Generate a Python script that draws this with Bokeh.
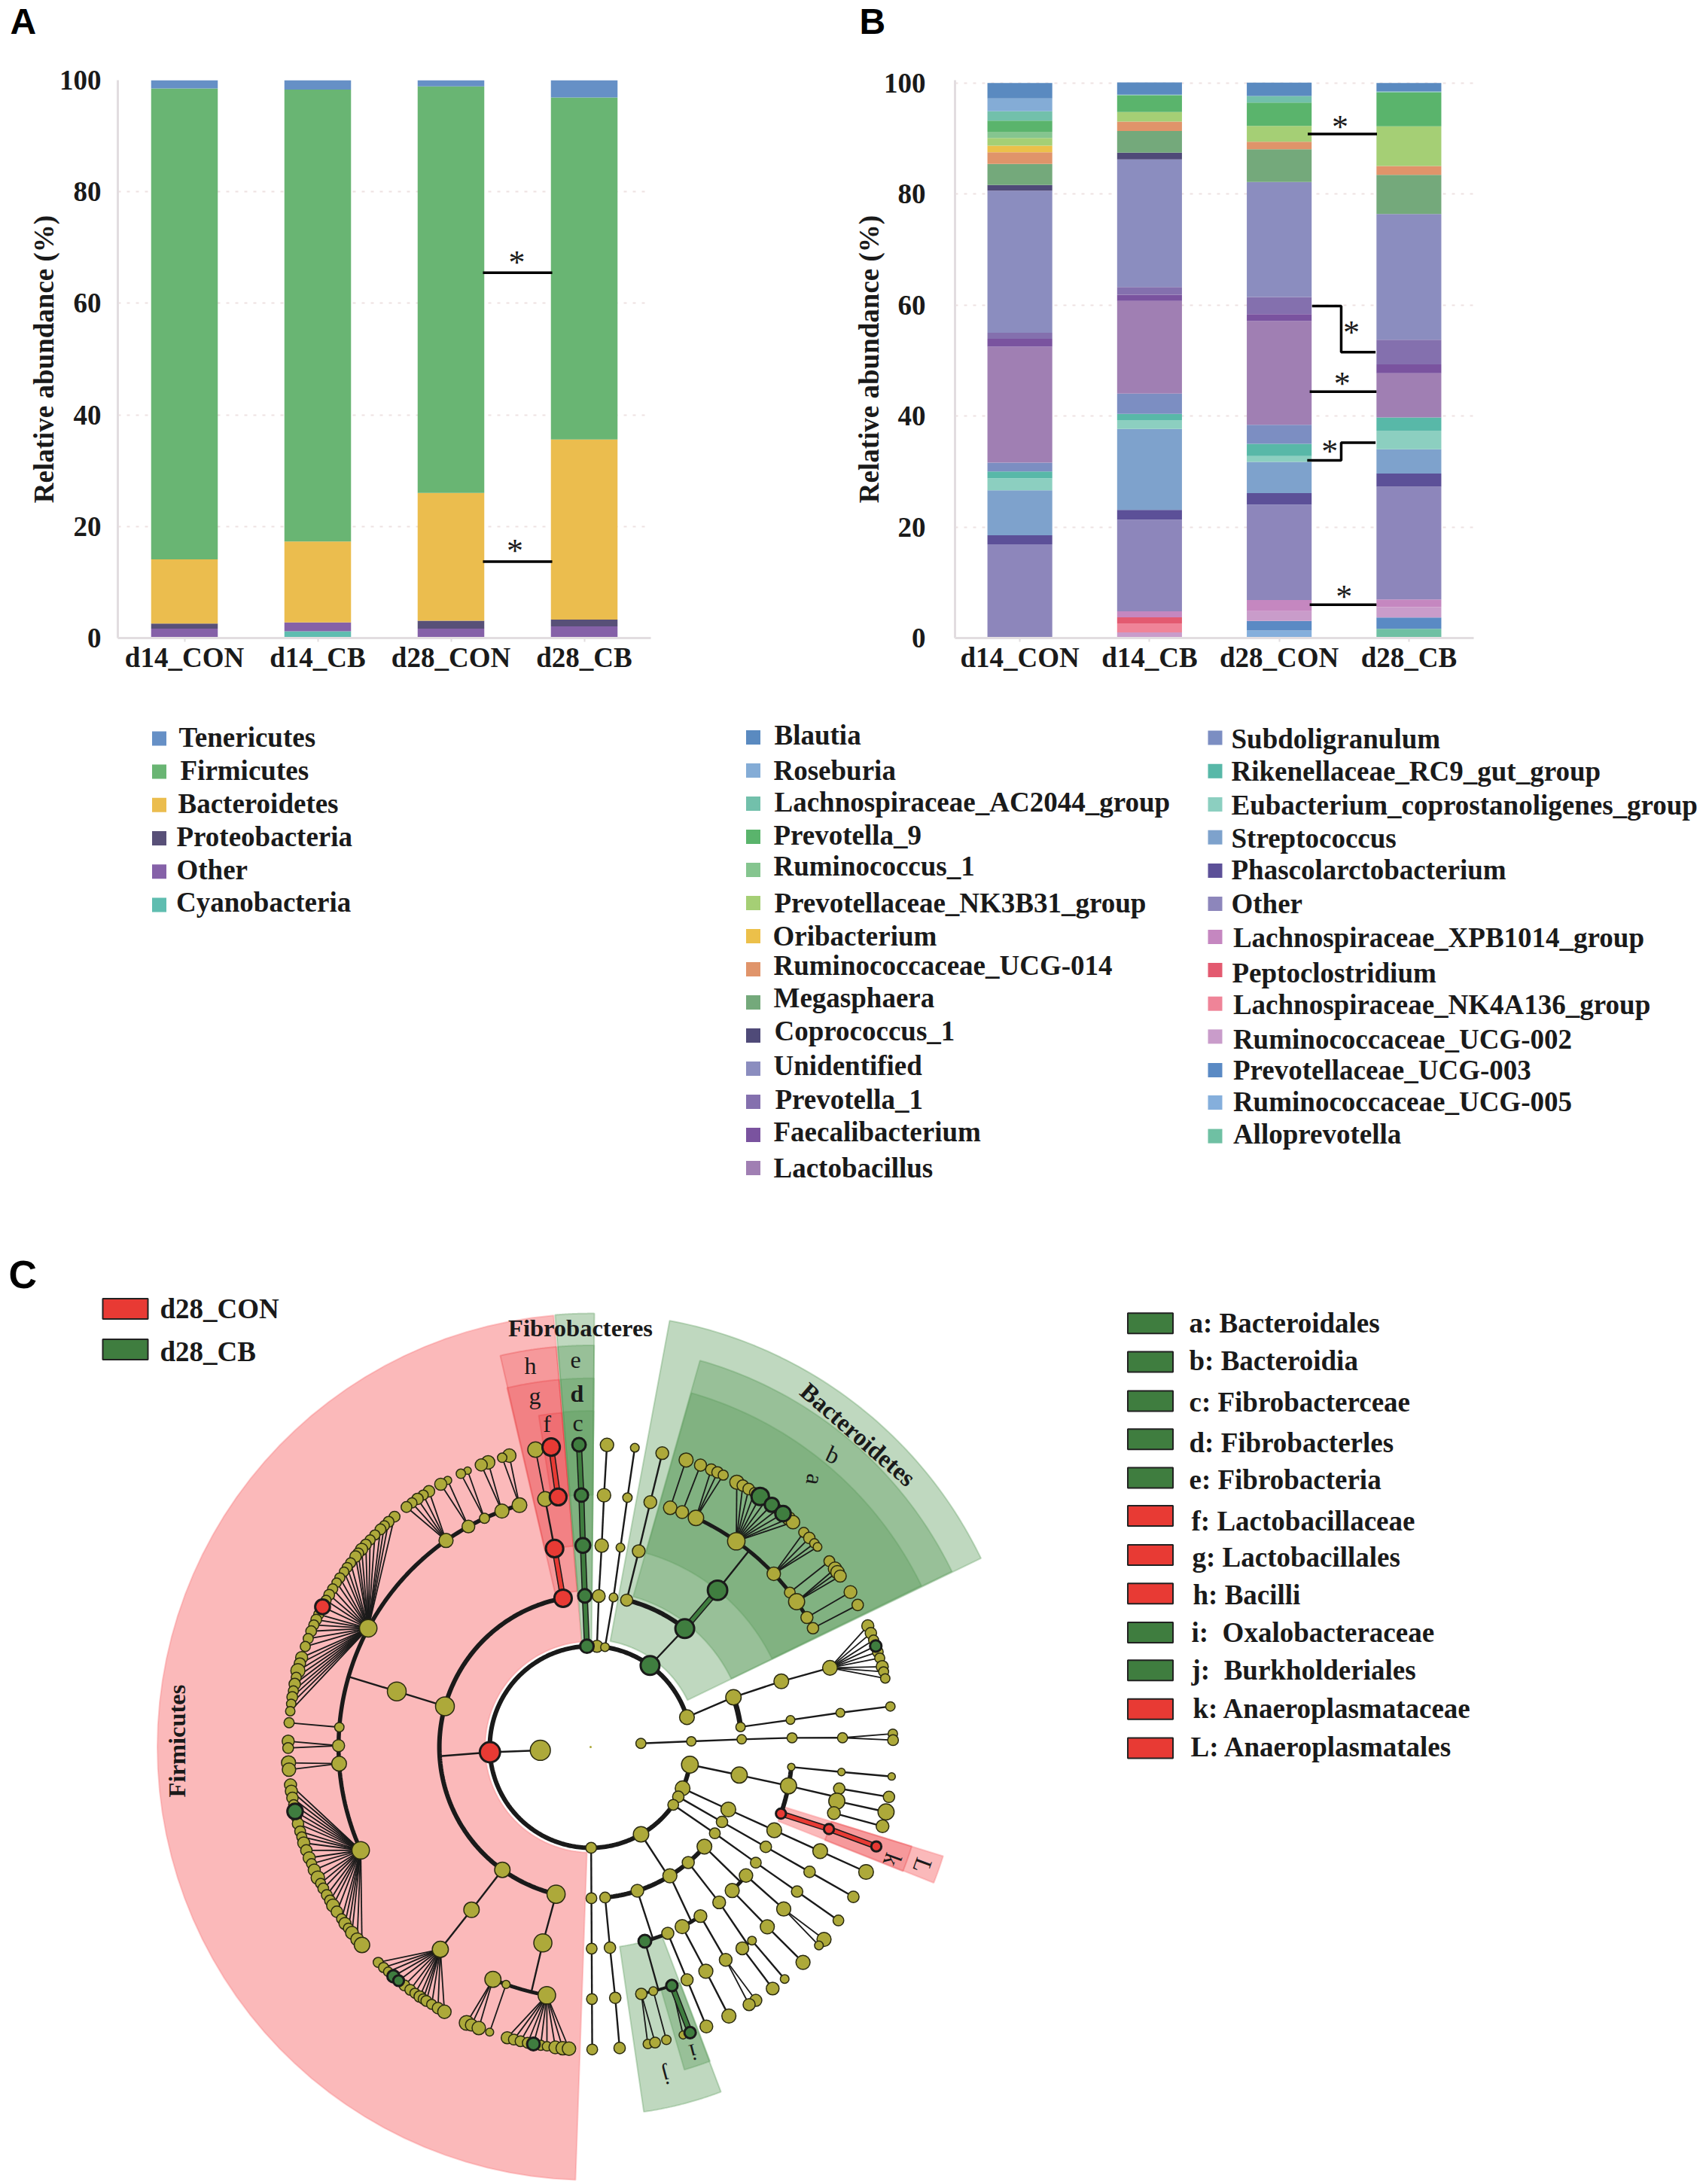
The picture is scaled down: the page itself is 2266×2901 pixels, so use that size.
import math
import numpy as np
from bokeh.plotting import figure
from bokeh.layouts import column, row
from bokeh.models import Range1d
from bokeh.core.properties import value
from bokeh.embed import file_html
from bokeh.resources import INLINE

SERIF = "Liberation Serif"
SANS = "Liberation Sans"
INK = "#1a1a1a"

groups = ["d14_CON", "d14_CB", "d28_CON", "d28_CB"]
y_ticks = [0, 20, 40, 60, 80, 100]
panel_letters = ["A", "B", "C"]

# ---------- panel A: phylum level (%), stacked bottom to top
A_taxa = ["Cyanobacteria", "Other", "Proteobacteria", "Bacteroidetes", "Firmicutes", "Tenericutes"]
A_colors = ["#5fbdb0", "#8561a8", "#585078", "#ebbd4e", "#69b573", "#6690c6"]
A_d14_CON = [0.0, 1.7, 0.9, 11.5, 84.4, 1.5]
A_d14_CB = [1.2, 1.6, 0.0, 14.5, 81.0, 1.7]
A_d28_CON = [0.0, 1.7, 1.4, 22.9, 72.9, 1.1]
A_d28_CB = [0.0, 2.1, 1.2, 32.3, 61.3, 3.1]
A_marks = [65.5, 13.7]
A_legend_names = ["Tenericutes", "Firmicutes", "Bacteroidetes", "Proteobacteria", "Other", "Cyanobacteria"]
A_legend_colors = ["#6690c6", "#69b573", "#ebbd4e", "#585078", "#8561a8", "#5fbdb0"]

# ---------- panel B: genus level (%), stacked bottom to top
B_taxa = ["Alloprevotella", "Ruminococcaceae_UCG-005", "Prevotellaceae_UCG-003", "Ruminococcaceae_UCG-002",
          "Lachnospiraceae_NK4A136_group", "Peptoclostridium", "Lachnospiraceae_XPB1014_group", "Other",
          "Phascolarctobacterium", "Streptococcus", "Eubacterium_coprostanoligenes_group",
          "Rikenellaceae_RC9_gut_group", "Subdoligranulum", "Lactobacillus", "Faecalibacterium", "Prevotella_1",
          "Unidentified", "Coprococcus_1", "Megasphaera", "Ruminococcaceae_UCG-014", "Oribacterium",
          "Prevotellaceae_NK3B31_group", "Ruminococcus_1", "Prevotella_9", "Lachnospiraceae_AC2044_group",
          "Roseburia", "Blautia"]
B_colors = ["#6fc0a3", "#85afdc", "#5a8ac4", "#c99cca", "#ef8498", "#e35a70", "#c587c0", "#8d86bb",
            "#5c5098", "#7ea2cc", "#8ccfc0", "#58b8a8", "#7c8ec2", "#a07fb3", "#7a539f", "#8470ae",
            "#8b8dbf", "#4f4a78", "#74a97b", "#e0946a", "#ecc04a", "#a5cf75", "#85c58f", "#5ab46c",
            "#72c0ab", "#84acd6", "#5a8ac0"]
B_d14_CON = [0, 0, 0, 0, 0, 0, 0, 16.9, 1.6, 8.1, 2.2, 1.2, 1.6, 20.9, 1.4, 1.1, 25.6, 1.0, 3.8, 2.1, 1.2, 1.4, 1.1, 2.0, 1.7, 2.3, 2.8]
B_d14_CB = [0, 0, 0, 1.03, 1.6, 1.1, 1.1, 16.5, 1.75, 14.6, 1.6, 1.1, 3.65, 16.7, 1.1, 1.4, 23.0, 1.2, 3.9, 1.7, 0, 1.75, 0, 3.0, 0.1, 0, 2.2]
B_d28_CON = [0, 1.35, 1.75, 1.75, 0, 0, 2.0, 17.2, 2.05, 5.65, 1.05, 2.2, 3.4, 18.7, 1.25, 3.1, 20.7, 0, 5.9, 1.35, 0, 2.85, 0, 4.2, 1.2, 0, 2.4]
B_d28_CB = [1.65, 0, 2.05, 1.85, 0, 0, 1.4, 20.3, 2.4, 4.35, 3.35, 2.4, 0, 7.95, 1.6, 4.45, 22.65, 0, 7.05, 1.6, 0, 7.15, 0, 6.1, 0.15, 0, 1.55]
B_legend_col1 = ["Blautia", "Roseburia", "Lachnospiraceae_AC2044_group", "Prevotella_9", "Ruminococcus_1",
                 "Prevotellaceae_NK3B31_group", "Oribacterium", "Ruminococcaceae_UCG-014", "Megasphaera",
                 "Coprococcus_1", "Unidentified", "Prevotella_1", "Faecalibacterium", "Lactobacillus"]
B_legend_col2 = ["Subdoligranulum", "Rikenellaceae_RC9_gut_group", "Eubacterium_coprostanoligenes_group",
                 "Streptococcus", "Phascolarctobacterium", "Other", "Lachnospiraceae_XPB1014_group",
                 "Peptoclostridium", "Lachnospiraceae_NK4A136_group", "Ruminococcaceae_UCG-002",
                 "Prevotellaceae_UCG-003", "Ruminococcaceae_UCG-005", "Alloprevotella"]

# ---------- panel C: key
C_groups = ["d28_CON", "d28_CB"]
C_key = ["a: Bacteroidales", "b: Bacteroidia", "c: Fibrobacterceae", "d: Fibrobacterles", "e: Fibrobacteria",
         "f: Lactobacillaceae", "g: Lactobacillales", "h: Bacilli", "i:\u00a0 Oxalobacteraceae", "j:\u00a0 Burkholderiales",
         "k: Anaeroplasmataceae", "L: Anaeroplasmatales"]
C_key_group = ["g", "g", "g", "g", "g", "r", "r", "r", "g", "g", "r", "r"]

# ---------- cladogram: (level, angle clockwise from north in degrees, node diameter, colour)
# diameter 0 means the line only runs to an arc, without a node of its own
thin_chains = [
    [(1, -93.8, 60, "o"), (2, -93.0, 60, "r"), (3, -93.5, 0, "o")],
    [(3, -74.4, 56, "o"), (4, -74.0, 56, "o"), (5, -73.8, 0, "o")],
    [(3, -144.3, 46, "o"), (4, -143.8, 46, "o"), (5, -143.4, 48, "o")],
    [(3, -166.8, 54, "o"), (4, -166.3, 54, "o"), (5, -166.4, 0, "o")],
    [(4, -10.3, 0, "o"), (5, -10.4, 44, "o")],
    [(2, 3.6, 36, "o"), (3, 3.1, 38, "o"), (4, 3.15, 40, "o"), (5, 3.05, 40, "o"), (6, 3.1, 40, "o")],
    [(2, 8.2, 26, "o"), (3, 8.7, 26, "o"), (4, 8.5, 26, "o"), (5, 8.4, 28, "o"), (6, 8.4, 26, "o")],
    [(3, 13.8, 36, "o"), (4, 13.8, 38, "o"), (5, 13.7, 38, "o"), (6, 13.7, 38, "o")],
    [(2, 36.1, 56, "g"), (3, 38.5, 0, "o")],
    [(4, 39.0, 0, "o"), (5, 38.9, 0, "o")],
    [(2, 72.8, 44, "o"), (3, 70.8, 46, "o"), (4, 71.0, 44, "o"), (5, 71.7, 44, "o")],
    [(3, 82.4, 28, "o"), (4, 82.3, 26, "o"), (5, 82.2, 26, "o"), (6, 82.3, 28, "o")],
    [(1, 85.9, 30, "o"), (2, 86.8, 28, "o"), (3, 87.1, 28, "o"), (4, 87.4, 30, "o"), (5, 87.9, 30, "o")],
    [(2, 100.1, 50, "o"), (3, 100.7, 48, "o"), (4, 101.1, 48, "o"), (5, 101.5, 0, "o")],
    [(4, 95.7, 22, "o"), (5, 95.7, 22, "o"), (6, 95.6, 22, "o")],
    [(5, 99.5, 34, "o"), (6, 99.5, 34, "o")],
    [(5, 102.4, 48, "o"), (6, 102.4, 48, "o")],
    [(5, 105.2, 38, "o"), (6, 105.2, 38, "o")],
    [(2, 114.2, 44, "o"), (3, 114.4, 44, "o"), (4, 114.4, 44, "o"), (5, 114.4, 44, "o"), (6, 114.4, 44, "o")],
    [(2, 119.6, 34, "o"), (3, 119.7, 34, "o"), (4, 119.7, 34, "o"), (5, 119.7, 34, "o"), (6, 119.7, 34, "o")],
    [(2, 125.0, 32, "o"), (3, 124.8, 32, "o"), (4, 125.0, 32, "o"), (5, 125.0, 34, "o"), (6, 125.0, 32, "o")],
    [(2, 150.0, 46, "o"), (3, 149.0, 0, "o")],
    [(3, 131.2, 44, "o"), (4, 132.0, 0, "o")],
    [(4, 129.6, 40, "o"), (5, 130.0, 42, "o")],
    [(4, 135.4, 42, "o"), (5, 135.5, 42, "o"), (6, 135.4, 42, "o")],
    [(3, 139.8, 36, "o"), (4, 140.4, 38, "o"), (5, 141.5, 0, "o")],
    [(5, 140.2, 26, "o"), (6, 140.1, 26, "o")],
    [(5, 143.0, 38, "o"), (6, 143.0, 38, "o")],
    [(3, 148.4, 42, "o"), (4, 150.0, 0, "o")],
    [(4, 147.0, 38, "o"), (5, 147.6, 38, "o")],
    [(4, 153.0, 42, "o"), (5, 152.8, 42, "o"), (6, 152.8, 42, "o")],
    [(3, 162.0, 38, "o"), (4, 162.0, 0, "o")],
    [(4, 157.5, 36, "o"), (5, 157.5, 36, "o"), (6, 157.5, 38, "o")],
    [(4, 164.4, 38, "g"), (5, 164.4, 0, "o")],
    [(3, 174.5, 32, "o"), (4, 174.5, 34, "o"), (5, 174.4, 34, "o"), (6, 174.5, 34, "o")],
    [(2, 179.7, 32, "o"), (3, 179.7, 32, "o"), (4, 179.7, 32, "o"), (5, 179.7, 32, "o"), (6, 179.7, 32, "o")],
]
green_chains = [
    [(2, -2.1, 40), (3, -2.2, 40), (4, -2.2, 44), (5, -2.1, 40), (6, -2.2, 40)],
    [(3, 38.5, 56), (4, 39.0, 58)],
    [(5, 161.2, 34), (6, 160.8, 34)],
]
red_chains = [
    [(3, -10.5, 52), (4, -10.3, 52)],
    [(5, -7.4, 50), (6, -7.5, 52)],
    [(4, 109.3, 30), (5, 109.0, 30), (6, 109.2, 30)],
]
hub_nodes = [(-16.4, 44), (-20.6, 42), (-24.9, 30), (-29.0, 38), (-35.0, 42), (-61.9, 52), (-85.5, 28), (-89.7, 36),
             (-93.8, 44), (-114.2, 52), (-157.2, 48), (-160.4, 24), (-170.0, 52), (18.4, 40), (21.3, 38), (24.7, 46),
             (35.3, 52), (46.6, 40), (52.2, 32), (54.8, 48), (59.1, 36), (61.9, 34), (165.6, 26), (168.4, 34)]
# fans: (hub angle at level 5, leaf angles, leaf diameters)
fans = [
    (-16.4, [-15.6, -17.0], [40, 28]),
    (-20.6, [-19.8, -21.2], [40, 36]),
    (-24.9, [-24.0, -25.4], [22, 28]),
    (-29.0, [-28.2, -29.7], [24, 36]),
    (-35.0, [-32.3, -33.6, -34.9, -36.2, -37.5], [34, 30, 34, 30, 32]),
    (-61.9, [-40.4, -41.9, -43.0, -44.0, -45.5, -46.8, -48.0, -49.2, -50.2, -51.0, -52.5, -53.6, -54.6, -56.0, -57.1,
             -58.5, -59.8, -61.0, -62.4, -64.0, -65.1, -66.2, -67.5, -69.0, -70.6, -72.8, -74.0, -75.4, -76.7, -78.0,
             -79.3, -80.5, -81.8, -83.2],
     [32, 32, 30, 32, 30, 30, 32, 36, 32, 34, 30, 30, 28, 30, 28, 30, 32, 30, 44, 30, 32, 30, 32, 30, 30, 36, 34, 42,
      30, 34, 30, 32, 28, 28]),
    (-85.5, [-85.4], [30]),
    (-89.7, [-88.9, -90.2], [36, 32]),
    (-93.8, [-93.0, -94.3], [42, 40]),
    (-114.2, [-97.2, -98.4, -99.7, -101.0, -102.3, -103.5, -104.7, -106.2, -107.3, -108.5, -110.0, -111.5, -112.7,
              -114.0, -115.6, -116.8, -117.9, -119.3, -120.5, -121.6, -123.0, -124.6, -125.7, -126.8, -127.9, -129.5,
              -130.9],
     [36, 36, 34, 30, 46, 30, 34, 32, 30, 36, 34, 36, 30, 36, 40, 30, 32, 32, 32, 38, 34, 30, 36, 30, 38, 38, 46]),
    (-143.4, [-135.4, -136.8, -138.0, -139.3, -140.6, -142.0, -143.4, -144.5, -145.6, -146.4, -147.1, -148.3, -149.7,
              -151.1], [30, 30, 28, 36, 32, 32, 32, 30, 34, 30, 32, 30, 34, 40]),
    (-157.2, [-155.8, -156.8, -158.3], [44, 36, 40]),
    (-160.4, [-160.5], [24]),
    (-170.0, [-164.0, -165.3, -166.6, -168.0, -169.1, -170.5, -171.7, -173.3, -174.7, -175.9],
     [36, 32, 32, 32, 38, 30, 28, 38, 40, 40]),
    (-10.4, [-10.5], [46]),
    (18.4, [18.4], [42]),
    (21.3, [21.3], [36]),
    (24.7, [23.5, 24.8, 26.0], [34, 34, 30]),
    (35.3, [28.9, 30.2, 31.5, 32.8, 34.1, 35.4, 36.8, 38.2, 39.5, 40.9, 42.0],
     [42, 34, 34, 30, 52, 30, 42, 30, 46, 40, 40]),
    (46.6, [44.8, 46.3, 47.7, 48.6], [30, 34, 28, 26]),
    (52.2, [52.1], [32]),
    (54.8, [53.9, 54.7, 55.6], [40, 40, 36]),
    (59.1, [59.2], [38]),
    (61.9, [62.0], [34]),
    (71.7, [66.4, 67.9, 69.3, 70.5, 71.7, 72.9, 74.6, 75.6, 76.9], [36, 34, 30, 34, 32, 30, 36, 30, 28]),
    (87.9, [87.5, 88.7], [28, 32]),
    (130.0, [129.5, 131.0], [42, 26]),
    (147.6, [146.9, 148.4], [36, 36]),
    (161.2, [162.2], [24]),
    (165.6, [165.5], [28]),
    (168.4, [169.1, 167.7], [28, 32]),
]
# leaves in the fans that are enriched in one group: (angle, diameter, colour)
marked_leaves = [(-62.4, 44, "r"), (-102.3, 46, "g"), (-139.3, 36, "g"), (-140.6, 32, "g"), (-169.1, 38, "g"),
                 (34.1, 52, "g"), (36.8, 42, "g"), (39.5, 46, "g"), (70.5, 34, "g")]
# arcs: (level, from angle, to angle, width)
arcs = [(2, 100.1, 432.8, 6.0), (3, -166.8, -10.5, 6.0), (3, 13.8, 38.5, 6.0), (3, 70.8, 82.4, 7.0),
        (3, 131.2, 174.5, 6.0), (5, -114.2, -16.4, 5.5), (5, -170.0, -157.2, 5.0), (5, -10.4, -7.4, 4.0),
        (5, 18.4, 24.7, 3.0), (5, 24.7, 61.9, 5.0), (5, 99.5, 105.2, 3.0), (5, 140.2, 143.0, 3.0),
        (5, 161.2, 168.4, 4.0), (4, 95.7, 109.3, 6.0), (4, 129.6, 135.4, 5.0), (4, 147.0, 153.0, 5.0),
        (4, 157.5, 164.4, 5.0)]
# shaded clades: (inner radius, outer radius, from angle, to angle)
pink_base = [(314, 1289, -178.0, -4.9), (600, 1098, 107.2, 111.6)]
red_bands = [(465, 1195, -13.0, -4.9), (600, 1097, -13.1, -4.9), (750, 998, -8.9, -4.9), (750, 1000, 107.2, 111.7)]
green_bands = [(320, 1290, -4.7, 0.5), (465, 1195, -4.7, 0.5), (600, 1097, -4.7, 0.5), (750, 1000, -4.7, 0.5),
               (320, 1290, 10.5, 64.2), (465, 1195, 15.8, 64.1), (600, 1095, 15.9, 64.0),
               (600, 1097, 159.3, 171.7), (750, 1000, 159.2, 163.8)]
clade_names = ["Fibrobacteres", "Bacteroidetes", "Firmicutes"]
clade_letters = ["h", "g", "f", "e", "d", "c", "b", "a", "j", "i", "k", "L"]


# ---------- shared axis styling
def style(p):
    p.background_fill_color = None
    p.border_fill_color = None
    p.outline_line_color = None
    p.xgrid.visible = False
    p.ygrid.grid_line_color = "#eee2e2"
    p.ygrid.grid_line_dash = "4 8"
    p.ygrid.grid_line_width = 2
    p.yaxis.ticker = y_ticks
    p.yaxis.axis_label = "Relative abundance (%)"
    p.yaxis.axis_label_text_font = SERIF
    p.yaxis.axis_label_text_font_style = "bold"
    p.yaxis.axis_label_text_font_size = "37px"
    p.yaxis.axis_label_text_color = INK
    for ax in (p.xaxis, p.yaxis):
        ax.axis_line_color = "#e2dde0"
        ax.axis_line_width = 3
        ax.major_label_text_font = SERIF
        ax.major_label_text_font_style = "bold"
        ax.major_label_text_font_size = "37px"
        ax.major_label_text_color = INK
    p.yaxis.major_tick_line_color = None
    p.yaxis.minor_tick_line_color = None
    p.xaxis.major_tick_line_color = "#e2dde0"
    p.xaxis.major_tick_line_width = 2
    p.xaxis.major_tick_out = 5
    p.xaxis.major_tick_in = 0


def stacks(p, bars, colors):
    for name, vals in zip(groups, bars):
        tops = np.cumsum(vals)
        bottoms = tops - np.array(vals)
        for b, t, c in zip(bottoms, tops, colors):
            if t > b:
                p.vbar(x=[name], bottom=[float(b)], top=[float(t)], width=0.5, fill_color=c, line_color=None)


def stars(p, xs, ys):
    p.text(x=xs, y=ys, text=["*"] * len(xs), text_font=value(SERIF), text_font_size="44px",
           text_align="center", text_baseline="alphabetic", text_color=INK)


# ---------- strip with the panel letters A and B
HEAD_H = 60
ph = figure(width=2264, height=HEAD_H, x_range=Range1d(0, 2264), y_range=Range1d(HEAD_H, 0),
            output_backend="svg", toolbar_location=None, tools="", min_border=0)
ph.background_fill_color = None
ph.border_fill_color = None
ph.outline_line_color = None
ph.axis.visible = False
ph.grid.visible = False
ph.text(x=[13, 1141], y=[28, 28], text=panel_letters[:2], text_font=value(SANS), text_font_style="bold",
        text_font_size="48px", text_color="black", text_baseline="alphabetic")

# ---------- panel A
TOP_H = 870
pa = figure(width=1130, height=TOP_H, x_range=groups, y_range=Range1d(0, 100), output_backend="svg",
            toolbar_location=None, tools="", min_border_left=156, min_border_right=266,
            min_border_top=46, min_border_bottom=83)
style(pa)
pa.xaxis.major_label_standoff = 0
pa.yaxis.major_label_standoff = 16
pa.yaxis.axis_label_standoff = -3
stacks(pa, [A_d14_CON, A_d14_CB, A_d28_CON, A_d28_CB], A_colors)
pa.multi_line(xs=[[2.74, 3.26], [2.74, 3.26]], ys=[[A_marks[0]] * 2, [A_marks[1]] * 2], line_color="black", line_width=3.5)
stars(pa, [2.995, 2.98], [67.4, 15.6])

# ---------- panel B
pb = figure(width=1120, height=TOP_H, x_range=groups, y_range=Range1d(0, 100.5), output_backend="svg",
            toolbar_location=None, tools="", min_border_left=125, min_border_right=293,
            min_border_top=46, min_border_bottom=83)
style(pb)
pb.xaxis.major_label_standoff = 0
pb.yaxis.major_label_standoff = 33
pb.yaxis.axis_label_standoff = -4
stacks(pb, [B_d14_CON, B_d14_CB, B_d28_CON, B_d28_CB], B_colors)
pb.multi_line(xs=[[2.72, 3.254], [2.753, 2.978, 2.978, 3.243], [2.735, 3.25], [2.716, 2.978, 2.978, 3.243], [2.735, 3.25]],
              ys=[[90.8, 90.8], [59.8, 59.8, 51.5, 51.5], [44.4, 44.4], [32.0, 32.0, 35.2, 35.2], [6.0, 6.0]],
              line_color="black", line_width=3.5)
stars(pb, [2.97, 3.057, 2.985, 2.89, 3.0], [92.1, 55.1, 45.8, 33.7, 7.45])

# ---------- lower part: legends and cladogram, on a canvas whose units are page pixels
TOP_Y = HEAD_H + TOP_H
BOT_Y = 2899
pc = figure(width=2264, height=BOT_Y - TOP_Y, x_range=Range1d(0, 2264), y_range=Range1d(BOT_Y, TOP_Y),
            output_backend="svg", toolbar_location=None, tools="", min_border=0)
pc.background_fill_color = None
pc.border_fill_color = None
pc.outline_line_color = None
pc.axis.visible = False
pc.grid.visible = False

BASELINE_SHIFT = 0.3 * 37


def legend_text(x, y, text, size="37px", style_="bold", **kw):
    base = kw.get("baseline", "alphabetic")
    ys = [v - BASELINE_SHIFT for v in y] if base == "alphabetic" else y
    pc.text(x=x, y=ys, text=text, text_font=value(SERIF), text_font_style=style_, text_font_size=size,
            text_color=INK, text_baseline=base, text_align=kw.get("align", "left"),
            angle=kw.get("angle", 0), angle_units="deg")


lookup_b = dict(zip(B_taxa, B_colors))
pc.scatter(x=[211] * 6, y=[980.4, 1024.6, 1068.8, 1113, 1157.2, 1201.4], size=19, marker="square",
           fill_color=A_legend_colors, line_color=None)
legend_text([237, 239, 236, 234, 234, 233.5], [990, 1034, 1078, 1122, 1166, 1209.5], A_legend_names)
pc.scatter(x=[1000] * 14, y=[979, 1023, 1067, 1111, 1155, 1199, 1243, 1287, 1331, 1375, 1419, 1463, 1507, 1551], size=19,
           marker="square", fill_color=[lookup_b[n] for n in B_legend_col1], line_color=None)
legend_text([1028, 1027, 1028, 1027, 1027, 1028, 1026, 1027, 1027, 1028, 1027, 1029, 1027, 1027],
            [987, 1033.6, 1076, 1120, 1161, 1210, 1254, 1293, 1336, 1380, 1426, 1471.5, 1514, 1562], B_legend_col1)
pc.scatter(x=[1613.5] * 13, y=[979.6, 1023.8, 1068, 1111.7, 1156, 1200, 1244, 1288, 1332.7, 1376.4, 1421, 1464, 1508.6],
           size=19, marker="square", fill_color=[lookup_b[n] for n in B_legend_col2], line_color=None)
legend_text([1635, 1635, 1635, 1635, 1635, 1635, 1637.4, 1636, 1637.4, 1637.4, 1637.4, 1637.4, 1637.4],
            [992.5, 1035, 1080.4, 1124, 1165.7, 1211, 1256, 1303, 1345, 1390.7, 1432, 1474, 1517.5], B_legend_col2)

RED = "#e83a34"
GREEN = "#3f7d3f"
OLIVE = "#ada93a"
pc.rect(x=[166, 166], y=[1738, 1792], width=60, height=27, fill_color=[RED, GREEN], line_color="#222222", line_width=2)
legend_text([212, 212], [1749, 1806], C_groups)
pc.rect(x=[1527.5] * 12, y=[1757.2, 1808.4, 1860.5, 1911.2, 1962.4, 2013.1, 2065.1, 2116.3, 2167.9, 2218.2, 2269.8, 2321.4],
        width=60, height=27, fill_color=[GREEN if k == "g" else RED for k in C_key_group],
        line_color="#222222", line_width=2)
legend_text([1579, 1579, 1579, 1579, 1579, 1582, 1583, 1584, 1582, 1582, 1584, 1581],
            [1768, 1818.4, 1872.6, 1926.8, 1976.2, 2030.9, 2079.4, 2129.3, 2179.2, 2229, 2279.8, 2331], C_key)
pc.text(x=[11], y=[1692.5], text=[panel_letters[2]], text_font=value(SANS), text_font_style="bold", text_font_size="52px",
        text_color="black", text_baseline="alphabetic")

# cladogram geometry
CX, CY = 784.0, 2320.0
ZOOM = 2.24
LEVEL = 150.0 / ZOOM


def polar(r, deg):
    a = math.radians(deg)
    return CX + r * math.sin(a), CY - r * math.cos(a)


def node_xy(level, deg):
    return polar(level * LEVEL, deg)


def sector(band):
    ri, ro, a0, a1 = band
    angs = np.linspace(a0, a1, 60)
    pts = [polar(ro / ZOOM, float(a)) for a in angs] + [polar(ri / ZOOM, float(a)) for a in angs[::-1]]
    return [p[0] for p in pts], [p[1] for p in pts]


def shade(bands, color, alpha, line_alpha):
    xy = [sector(b) for b in bands]
    pc.patches(xs=[s[0] for s in xy], ys=[s[1] for s in xy], fill_color=color, fill_alpha=alpha,
               line_color=color, line_alpha=line_alpha, line_width=2)


shade(pink_base, "#f8787a", 0.52, 0.35)
shade(red_bands, "#e83a40", 0.25, 0.3)
shade(green_bands, "#5e9e5e", 0.4, 0.35)

# arcs
arc_xs, arc_ys, arc_w = [], [], []
for lev, a0, a1, w in arcs:
    pts = [node_xy(lev, float(a)) for a in np.linspace(a0, a1, max(8, int(abs(a1 - a0))))]
    arc_xs.append([p[0] for p in pts])
    arc_ys.append([p[1] for p in pts])
    arc_w.append(w)
pc.multi_line(xs=arc_xs, ys=arc_ys, line_color=INK, line_width=arc_w)

# lines
x0, y0, x1, y1 = [], [], [], []
for chain in thin_chains:
    for a, b in zip(chain[:-1], chain[1:]):
        p, q = node_xy(a[0], a[1]), node_xy(b[0], b[1])
        x0.append(p[0]); y0.append(p[1]); x1.append(q[0]); y1.append(q[1])
pc.segment(x0=x0, y0=y0, x1=x1, y1=y1, line_color=INK, line_width=2.4)

x0, y0, x1, y1 = [], [], [], []
for hub, leaves, _ in fans:
    p = node_xy(5, hub)
    for leaf in leaves:
        q = node_xy(6, leaf)
        x0.append(p[0]); y0.append(p[1]); x1.append(q[0]); y1.append(q[1])
pc.segment(x0=x0, y0=y0, x1=x1, y1=y1, line_color=INK, line_width=1.8)

for chains, col in ((green_chains, GREEN), (red_chains, RED)):
    x0, y0, x1, y1 = [], [], [], []
    for chain in chains:
        for a, b in zip(chain[:-1], chain[1:]):
            p, q = node_xy(a[0], a[1]), node_xy(b[0], b[1])
            x0.append(p[0]); y0.append(p[1]); x1.append(q[0]); y1.append(q[1])
    pc.segment(x0=x0, y0=y0, x1=x1, y1=y1, line_color=INK, line_width=8)
    pc.segment(x0=x0, y0=y0, x1=x1, y1=y1, line_color=col, line_width=5)

# nodes
ox, oy, os_ = [], [], []
for hub, leaves, sizes in fans:
    for leaf, s in zip(leaves, sizes):
        q = node_xy(6, leaf)
        ox.append(q[0]); oy.append(q[1]); os_.append(s / ZOOM)
for ang, s in hub_nodes:
    q = node_xy(5, ang)
    ox.append(q[0]); oy.append(q[1]); os_.append(s / ZOOM)
hx, hy, hs, hc = [], [], [], []
for chain in thin_chains:
    for lev, ang, s, c in chain:
        if s == 0:
            continue
        q = node_xy(lev, ang)
        if c == "o":
            ox.append(q[0]); oy.append(q[1]); os_.append(s / ZOOM)
        else:
            hx.append(q[0]); hy.append(q[1]); hs.append(s / ZOOM); hc.append(RED if c == "r" else GREEN)
for chains, col in ((green_chains, GREEN), (red_chains, RED)):
    for chain in chains:
        for lev, ang, s in chain:
            q = node_xy(lev, ang)
            hx.append(q[0]); hy.append(q[1]); hs.append(s / ZOOM); hc.append(col)
for ang, s, c in marked_leaves:
    q = node_xy(6, ang)
    hx.append(q[0]); hy.append(q[1]); hs.append(s / ZOOM); hc.append(RED if c == "r" else GREEN)
pc.scatter(x=ox, y=oy, size=os_, marker="circle", fill_color=OLIVE, line_color="#2a2a10", line_width=1.5)
pc.scatter(x=hx, y=hy, size=hs, marker="circle", fill_color=hc, line_color=INK, line_width=3)
pc.scatter(x=[CX], y=[CY], size=3, marker="circle", fill_color=OLIVE, line_color=None)

# clade names and letters
legend_text([770.5], [1763], [clade_names[0]], size="32.5px", align="center", baseline="middle")
legend_text([1139], [1905], [clade_names[1]], size="33px", align="center", baseline="middle", angle=-41)
legend_text([234], [2312], [clade_names[2]], size="32.5px", align="center", baseline="middle", angle=90)
legend_text([704, 710, 726, 764], [1813, 1853, 1890, 1806], clade_letters[:4], size="32px", style_="normal",
            align="center", baseline="middle")
legend_text([766], [1850], [clade_letters[4]], size="32px", align="center", baseline="middle")
legend_text([767], [1889], [clade_letters[5]], size="32px", style_="normal", align="center", baseline="middle")
legend_text([1106], [1932], [clade_letters[6]], size="32px", style_="normal", align="center", baseline="middle", angle=-25)
legend_text([1082], [1965], [clade_letters[7]], size="32px", style_="normal", align="center", baseline="middle", angle=-100)
legend_text([884, 920], [2758, 2726], clade_letters[8:10], size="32px", style_="normal", align="center", baseline="middle", angle=-165)
legend_text([1185, 1225], [2470, 2478], clade_letters[10:], size="32px", style_="normal", align="center", baseline="middle", angle=-110)

root = column(ph, row(pa, pb, spacing=0), pc, spacing=0)
open("out.html", "w").write(file_html(root, INLINE))
